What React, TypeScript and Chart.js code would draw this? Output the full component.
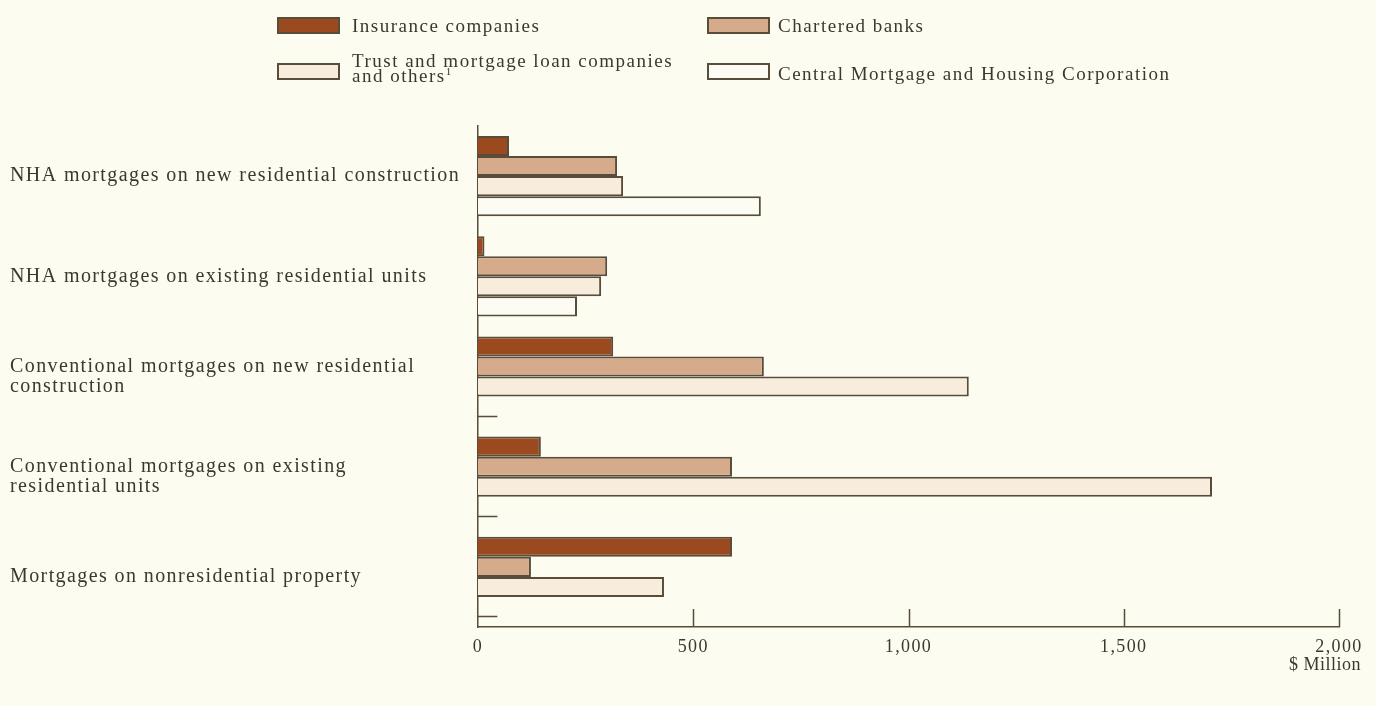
import React, { useEffect, useRef } from 'react';
import { Chart, registerables } from 'chart.js';

Chart.register(...registerables);

// ---- Data ----
const categories: string[][] = [
  ['NHA mortgages on new residential construction'],
  ['NHA mortgages on existing residential units'],
  ['Conventional mortgages on new residential', 'construction'],
  ['Conventional mortgages on existing', 'residential units'],
  ['Mortgages on nonresidential property'],
];
const seriesNames = [
  'Insurance companies',
  'Chartered banks',
  'Trust and mortgage loan companies and others',
  'Central Mortgage and Housing Corporation',
];
const insurance = [72, 15, 314, 146, 590];
const charteredBanks = [323, 300, 664, 590, 123];
const trustAndOthers = [337, 286, 1140, 1705, 432];
const cmhc = [657, 230, 0, 0, 0]; // 0 = nil, shown as a dash
const xTickValues = [0, 500, 1000, 1500, 2000];
const xUnit = '$ Million';

// ---- Styles ----
const BG = '#fcfcf1';
const INK = '#3b392d';
const EDGE = '#584d3b';
const FONT = "'Liberation Serif', 'Times New Roman', serif";
const fills = ['#9a4a1e', '#d6ab8c', '#f8eddc', '#fdfcf4'];
const NIL_DASH_LEN = 45; // in axis units

const marksPlugin = {
  id: 'marks',
  beforeDraw(chart: any) {
    chart.ctx.letterSpacing = '1.4px';
  },
  afterDraw(chart: any) {
    const ctx = chart.ctx;
    const xs = chart.scales.x;
    const area = chart.chartArea;
    ctx.save();
    ctx.strokeStyle = EDGE;
    ctx.lineWidth = 1.5;
    // upward tick marks on the value axis
    xTickValues.forEach((v) => {
      if (v === 0) return;
      const px = Math.round(xs.getPixelForValue(v)) + 0.5;
      ctx.beginPath();
      ctx.moveTo(px, area.bottom);
      ctx.lineTo(px, area.bottom - 18);
      ctx.stroke();
    });
    // dashes for nil values
    chart.data.datasets.forEach((ds: any, di: number) => {
      const meta = chart.getDatasetMeta(di);
      ds.data.forEach((v: number, i: number) => {
        if (v !== 0) return;
        const el = meta.data[i];
        if (!el) return;
        const y = Math.round(el.y + el.height / 2) - 0.5;
        ctx.beginPath();
        ctx.moveTo(xs.getPixelForValue(0), y);
        ctx.lineTo(xs.getPixelForValue(NIL_DASH_LEN), y);
        ctx.stroke();
      });
    });
    ctx.restore();
  },
};

function ChartCanvas() {
  const ref = useRef<HTMLCanvasElement | null>(null);
  useEffect(() => {
    if (!ref.current) return;
    const series = [insurance, charteredBanks, trustAndOthers, cmhc];
    const chart = new Chart(ref.current, {
      type: 'bar',
      data: {
        labels: categories as any,
        datasets: series.map((d, i) => ({
          label: seriesNames[i],
          data: d,
          backgroundColor: fills[i],
          borderColor: EDGE,
          borderWidth: (c: any) => (c.raw === 0 ? 0 : 2),
          barPercentage: 1,
          categoryPercentage: 0.8,
        })),
      },
      options: {
        indexAxis: 'y',
        responsive: true,
        maintainAspectRatio: false,
        animation: false,
        layout: { padding: { left: 10, right: 37, top: 126, bottom: 0 } },
        plugins: {
          legend: { display: false },
          tooltip: { enabled: false },
        },
        scales: {
          x: {
            type: 'linear',
            min: 0,
            max: 2000,
            afterBuildTicks: (s: any) => {
              s.ticks = xTickValues.map((v) => ({ value: v }));
            },
            afterFit: (s: any) => {
              s.height = 79;
            },
            ticks: {
              callback: (v: any) => Number(v).toLocaleString('en-US'),
              font: { family: FONT, size: 18 },
              color: INK,
              padding: 9,
              maxRotation: 0,
              autoSkip: false,
            },
            grid: { display: false, drawTicks: false },
            border: { display: true, color: EDGE, width: 1.5 },
          },
          y: {
            type: 'category',
            afterFit: (s: any) => {
              s.width = 468;
            },
            ticks: {
              crossAlign: 'far',
              padding: 0,
              autoSkip: false,
              font: { family: FONT, size: 20, lineHeight: 1.0 },
              color: INK,
            },
            grid: { display: false, drawTicks: false },
            border: { display: true, color: EDGE, width: 1.5 },
          },
        },
      } as any,
      plugins: [marksPlugin],
    });
    return () => chart.destroy();
  }, []);
  return <canvas ref={ref} />;
}

const boxStyle = (left: number, top: number, fill: string): React.CSSProperties => ({
  position: 'absolute',
  left,
  top,
  width: 63,
  height: 17,
  boxSizing: 'border-box',
  border: `2px solid ${EDGE}`,
  background: fill,
});

const textStyle = (left: number, top: number, lh = 18): React.CSSProperties => ({
  position: 'absolute',
  left,
  top,
  fontFamily: FONT,
  fontSize: 19,
  lineHeight: `${lh}px`,
  letterSpacing: '1.5px',
  color: INK,
  whiteSpace: 'nowrap',
});

export default function App() {
  return (
    <div
      style={{
        position: 'fixed',
        left: 0,
        top: 0,
        width: 1376,
        height: 706,
        background: BG,
        overflow: 'hidden',
      }}
    >
      <div style={{ position: 'absolute', left: 0, top: 0, width: 1376, height: 706 }}>
        <ChartCanvas />
      </div>
      {/* Legend */}
      <div style={boxStyle(277, 17, fills[0])} />
      <div style={textStyle(352, 17)}>{seriesNames[0]}</div>
      <div style={boxStyle(707, 17, fills[1])} />
      <div style={textStyle(778, 17)}>{seriesNames[1]}</div>
      <div style={boxStyle(277, 63, fills[2])} />
      <div style={textStyle(352, 53, 15)}>
        Trust and mortgage loan companies
        <br />
        and others<sup style={{ fontSize: 11, lineHeight: 0 }}>1</sup>
      </div>
      <div style={boxStyle(707, 63, fills[3])} />
      <div style={textStyle(778, 65)}>{seriesNames[3]}</div>
      {/* Unit label */}
      <div
        style={{
          position: 'absolute',
          right: 15,
          top: 654,
          fontFamily: FONT,
          fontSize: 18,
          lineHeight: '20px',
          letterSpacing: '0.5px',
          color: INK,
        }}
      >
        {xUnit}
      </div>
    </div>
  );
}
